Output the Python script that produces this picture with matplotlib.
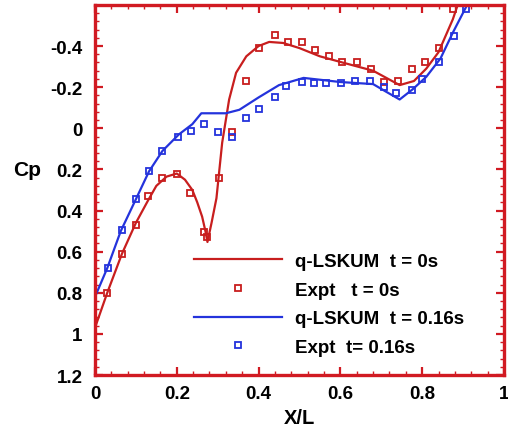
import matplotlib
matplotlib.use("Agg")
import matplotlib.pyplot as plt
from matplotlib.ticker import MultipleLocator, FuncFormatter

plt.rcParams['font.family'] = ['Liberation Sans', 'DejaVu Sans']
plt.rcParams['font.weight'] = 'bold'

# q-LSKUM t = 0s
x_cfd0 = [0.0, 0.03, 0.066, 0.10, 0.13, 0.15, 0.175, 0.2, 0.22, 0.238, 0.25, 0.262, 0.27, 0.275,
          0.285, 0.297, 0.311, 0.328, 0.345, 0.37, 0.40, 0.426, 0.46, 0.5, 0.55, 0.605, 0.68,
          0.745, 0.78, 0.81, 0.84, 0.875, 0.887]
cp_cfd0 = [0.97, 0.80, 0.61, 0.46, 0.35, 0.28, 0.235, 0.22, 0.25, 0.30, 0.36, 0.43, 0.50, 0.553,
           0.46, 0.34, 0.07, -0.14, -0.27, -0.35, -0.40, -0.42, -0.415, -0.39, -0.35, -0.32, -0.28,
           -0.21, -0.23, -0.29, -0.37, -0.53, -0.60]

# Expt t = 0s
x_exp0 = [0.03, 0.066, 0.10, 0.13, 0.165, 0.20, 0.233, 0.267, 0.275, 0.304, 0.336, 0.37, 0.40,
          0.441, 0.473, 0.505, 0.537, 0.571, 0.605, 0.64, 0.674, 0.706, 0.742, 0.775, 0.806,
          0.84, 0.875]
cp_exp0 = [0.80, 0.61, 0.47, 0.33, 0.24, 0.22, 0.316, 0.505, 0.53, 0.24, 0.02, -0.23, -0.39,
           -0.456, -0.42, -0.42, -0.38, -0.35, -0.32, -0.32, -0.29, -0.225, -0.23, -0.29, -0.32,
           -0.39, -0.58]

# q-LSKUM t = 0.16s
x_cfd1 = [0.0, 0.03, 0.063, 0.10, 0.132, 0.165, 0.205, 0.238, 0.26, 0.32, 0.353, 0.40, 0.45,
          0.51, 0.6, 0.68, 0.71, 0.745, 0.777, 0.81, 0.845, 0.875, 0.91]
cp_cfd1 = [0.82, 0.68, 0.50, 0.345, 0.21, 0.11, 0.03, -0.02, -0.073, -0.073, -0.09, -0.15, -0.21,
           -0.245, -0.225, -0.215, -0.18, -0.14, -0.19, -0.25, -0.34, -0.465, -0.60]

# Expt t = 0.16s
x_exp1 = [0.033, 0.065, 0.10, 0.132, 0.165, 0.203, 0.235, 0.267, 0.30, 0.335, 0.37, 0.40, 0.44,
          0.467, 0.505, 0.535, 0.566, 0.602, 0.637, 0.673, 0.706, 0.735, 0.775, 0.80, 0.84,
          0.877, 0.907]
cp_exp1 = [0.68, 0.495, 0.345, 0.21, 0.11, 0.04, 0.013, -0.023, 0.018, 0.043, -0.05, -0.096,
           -0.15, -0.205, -0.225, -0.22, -0.22, -0.22, -0.23, -0.23, -0.2, -0.17, -0.185, -0.24,
           -0.32, -0.45, -0.58]

labels = ['q-LSKUM  t = 0s', 'Expt   t = 0s', 'q-LSKUM  t = 0.16s', 'Expt  t= 0.16s']
y_ticks = [-0.4, -0.2, 0, 0.2, 0.4, 0.6, 0.8, 1, 1.2]
x_ticks = [0, 0.2, 0.4, 0.6, 0.8, 1]

RED_AX = '#d11a22'
RED = '#c81e1e'
BLUE = '#2433dc'

fig = plt.figure(figsize=(5.08, 4.39), dpi=100)
ax = fig.add_axes([0.187, 0.1435, 0.805, 0.843])

ax.plot(x_cfd0, cp_cfd0, color=RED, lw=1.6, label=labels[0])
ax.plot(x_exp0, cp_exp0, ls='none', marker='s', ms=5, mfc='none', mec=RED, mew=1.3, label=labels[1])
ax.plot(x_cfd1, cp_cfd1, color=BLUE, lw=1.6, label=labels[2])
ax.plot(x_exp1, cp_exp1, ls='none', marker='s', ms=5, mfc='none', mec=BLUE, mew=1.3, label=labels[3])

ax.set_xlim(0, 1)
ax.set_ylim(1.2, -0.6)
ax.set_xticks(x_ticks)
ax.set_yticks(y_ticks)
ax.xaxis.set_minor_locator(MultipleLocator(0.04))
ax.yaxis.set_minor_locator(MultipleLocator(0.04))
fmt = FuncFormatter(lambda v, p: ('%g' % round(v, 3)))
ax.xaxis.set_major_formatter(fmt)
ax.yaxis.set_major_formatter(fmt)

for s in ax.spines.values():
    s.set_color(RED_AX)
    s.set_linewidth(2.4)
ax.tick_params(which='both', direction='in', top=True, right=True, color=RED_AX)
ax.tick_params(which='major', length=6, width=1.6)
ax.tick_params(which='minor', length=3, width=1.0)
ax.tick_params(axis='y', which='major', pad=9, labelsize=13.5)
ax.tick_params(axis='x', which='major', pad=7, labelsize=13.5)
for lab in ax.get_xticklabels() + ax.get_yticklabels():
    lab.set_fontweight('bold')

fig.text(27 / 508, 1 - 171 / 439, 'Cp', fontsize=15, fontweight='bold', ha='center', va='center')
fig.text(299 / 508, 1 - 419 / 439, 'X/L', fontsize=14.5, fontweight='bold', ha='center', va='center')

leg = ax.legend(loc='upper left', bbox_to_anchor=(0.21, 0.366), frameon=False,
                prop={'weight': 'bold', 'size': 13.5}, handlelength=4.7, handletextpad=0.7,
                labelspacing=0.62, borderpad=0.2, markerscale=0.8)

fig.savefig('out.png', dpi=100)
